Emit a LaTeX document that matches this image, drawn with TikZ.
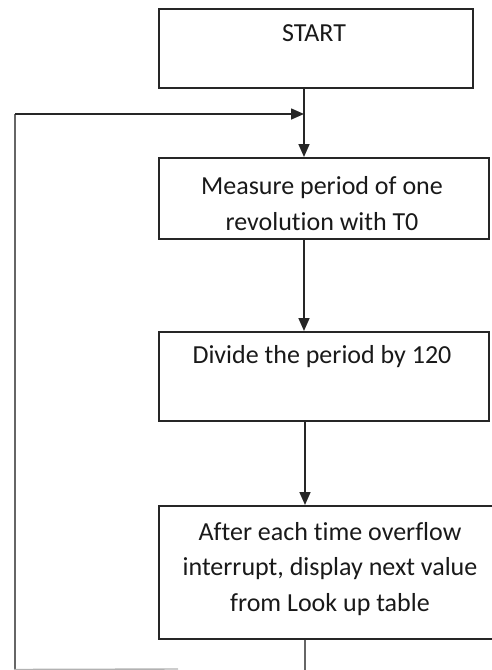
\documentclass[tikz,border=0pt]{standalone}
\usepackage{fontspec}
\setmainfont[Ligatures={NoCommon}]{Carlito}
\usetikzlibrary{arrows.meta}
\begin{document}
\begin{tikzpicture}[x=1pt,y=-1pt,
  box/.style={draw=black!85, line width=1.8pt, rectangle, inner sep=0pt, anchor=north west},
  lbl/.style={font=\fontsize{26}{35.5}\selectfont, align=center, anchor=base, inner sep=0pt, text=black!90},
  flow/.style={line width=1.6pt, draw=black!85, -{Triangle[length=13pt,width=11pt]}},
  wire/.style={line width=1.6pt, draw=black!85},
  faint/.style={line width=1.6pt, draw=black!60},
  ]
\useasboundingbox (0,0) rectangle (492,670);
\clip (0,0) rectangle (492,670);
% boxes
\node[box, minimum width=314pt, minimum height=79pt]  (start)   at (158,8)   {};
\node[box, minimum width=330pt, minimum height=81pt]  (measure) at (158,157) {};
\node[box, minimum width=330pt, minimum height=89pt]  (divide)  at (158,331) {};
\node[box, minimum width=344pt, minimum height=133pt] (after)   at (158,505) {};
% texts (anchor base = baseline of the last line)
\node[lbl] (tstart)   at (314,41)  {START};
\node[lbl] (tmeasure) at (322,230) {Measure period of one\\revolution with T0};
\node[lbl] (tdivide)  at (322,363) {Divide the period by 120};
\node[lbl] (tafter)   at (330,611) {After each time overflow\\interrupt, display next value\\from Look up table};
% connector helpers
\coordinate (spine) at (304,0);
\coordinate (spine2) at (305,0);
\coordinate (join) at (304,114);
\coordinate (lbot) at (15,669);
\coordinate (ltop) at (15,114);
\coordinate (bend) at (178,669);
\coordinate (out) at (305,672);
% connectors
\draw[wire] (start.south -| spine) -- (join);
\draw[flow] (join) -- (measure.north -| spine);
\draw[flow] (measure.south -| spine) -- (divide.north -| spine);
\draw[flow] (divide.south -| spine2) -- (after.north -| spine2);
\draw[faint] (after.south -| spine2) -- (out);
\draw[faint] (lbot) -- (ltop);
\draw[flow] (ltop) -- (join);
\draw[line width=1.4pt, draw=black!30] (14,669.5) -- (bend);
\end{tikzpicture}
\end{document}
